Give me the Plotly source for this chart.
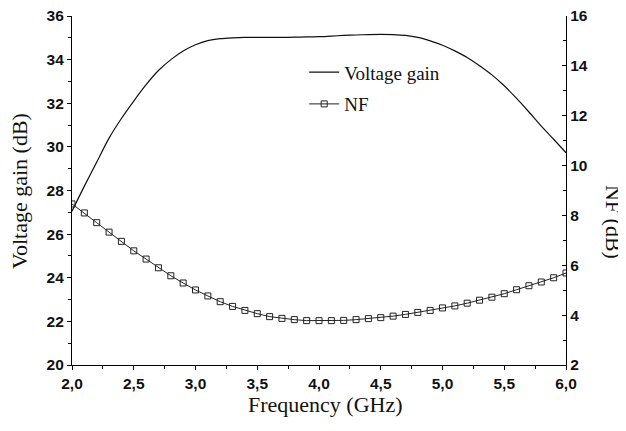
import plotly.graph_objects as go

freq = [2.0, 2.1, 2.2, 2.3, 2.4, 2.5, 2.6, 2.7, 2.8, 2.9, 3.0, 3.1, 3.2, 3.3, 3.4, 3.5, 3.6, 3.7, 3.8, 3.9,
        4.0, 4.1, 4.2, 4.3, 4.4, 4.5, 4.6, 4.7, 4.8, 4.9, 5.0, 5.1, 5.2, 5.3, 5.4, 5.5, 5.6, 5.7, 5.8, 5.9, 6.0]

voltage_gain = [27.05, 28.2, 29.3, 30.4, 31.3, 32.1, 32.85, 33.5, 34.0, 34.4, 34.68, 34.87, 34.96, 35.0, 35.02,
                35.02, 35.02, 35.02, 35.03, 35.04, 35.05, 35.08, 35.11, 35.13, 35.15, 35.16, 35.15, 35.11, 35.02,
                34.86, 34.66, 34.4, 34.1, 33.72, 33.3, 32.8, 32.22, 31.6, 30.95, 30.35, 29.73]

nf = [8.46, 8.10, 7.71, 7.33, 6.96, 6.58, 6.25, 5.90, 5.58, 5.29, 5.01, 4.77, 4.54, 4.35, 4.19, 4.06, 3.94,
      3.87, 3.82, 3.78, 3.78, 3.78, 3.79, 3.82, 3.86, 3.90, 3.96, 4.03, 4.11, 4.19, 4.29, 4.37, 4.48, 4.60,
      4.72, 4.86, 5.02, 5.18, 5.33, 5.50, 5.69]

x_tickvals = [2.0, 2.5, 3.0, 3.5, 4.0, 4.5, 5.0, 5.5, 6.0]
x_ticktext = ["2,0", "2,5", "3,0", "3,5", "4,0", "4,5", "5,0", "5,5", "6,0"]
y1_tickvals = [20, 22, 24, 26, 28, 30, 32, 34, 36]
y2_tickvals = [2, 4, 6, 8, 10, 12, 14, 16]

serif = "Liberation Serif, Times New Roman, serif"
sans = "Liberation Sans, Arial, sans-serif"
ink = "#111111"

fig = go.Figure()
fig.add_trace(go.Scatter(x=freq, y=voltage_gain, mode="lines", name="Voltage gain",
                         line=dict(color=ink, width=1.2, shape="spline", smoothing=0.8), legendgroup="g1"))
fig.add_trace(go.Scatter(x=freq, y=nf, mode="lines+markers", name="NF", yaxis="y2",
                         line=dict(color="#222222", width=1),
                         marker=dict(symbol="square-open", size=6, color="#222222", line=dict(width=1)),
                         legendgroup="g2"))

tickfont = dict(family=sans, size=15.5, color=ink, weight="bold")

# The page body adds an 8 px offset, so width/height and left/top margins are reduced by 8 px.
fig.update_layout(
    width=618, height=423,
    margin=dict(l=64, r=60, t=8, b=66),
    paper_bgcolor="white", plot_bgcolor="white",
    showlegend=True,
    legend=dict(x=0.47, y=0.893, xanchor="left", yanchor="top", bgcolor="rgba(0,0,0,0)",
                font=dict(family=serif, size=19, color=ink),
                tracegroupgap=4, itemwidth=30, traceorder="grouped"),
    xaxis=dict(range=[2.0, 6.0], tickvals=x_tickvals, ticktext=x_ticktext, automargin=False,
               showline=True, linecolor="black", linewidth=1.2, ticks="outside", ticklen=4,
               tickcolor="black", showgrid=False, zeroline=False, ticklabeloverflow="allow",
               minor=dict(dtick=0.25, tick0=2.0, ticks="outside", ticklen=3, tickcolor="black", showgrid=False),
               tickfont=tickfont),
    yaxis=dict(range=[20, 36], tickvals=y1_tickvals, automargin=False,
               showline=True, linecolor="black", linewidth=1.2, ticks="outside", ticklen=4,
               tickcolor="black", showgrid=False, zeroline=False, ticklabeloverflow="allow",
               minor=dict(dtick=1, tick0=20, ticks="outside", ticklen=3, tickcolor="black", showgrid=False),
               tickfont=tickfont),
    yaxis2=dict(range=[2, 16], tickvals=y2_tickvals, overlaying="y", side="right", automargin=False,
                showline=True, linecolor="black", linewidth=1.2, ticks="inside", ticklen=4,
                tickcolor="black", showgrid=False, zeroline=False, ticklabeloverflow="allow",
                minor=dict(dtick=1, tick0=2, ticks="inside", ticklen=3, tickcolor="black", showgrid=False),
                tickfont=tickfont),
    annotations=[
        dict(text="Frequency (GHz)", xref="paper", yref="paper", x=0.513, y=-0.113,
             xanchor="center", yanchor="middle", showarrow=False,
             font=dict(family=serif, size=22, color=ink)),
        dict(text="Voltage gain (dB)", xref="paper", yref="paper", x=-0.105, y=0.4986,
             xanchor="center", yanchor="middle", textangle=-90, showarrow=False,
             font=dict(family=serif, size=22, color=ink)),
        dict(text="NF (dB)", xref="paper", yref="paper", x=1.095, y=0.41,
             xanchor="center", yanchor="middle", textangle=90, showarrow=False,
             font=dict(family=serif, size=22, color=ink)),
    ],
)

fig.write_html("out.html")
